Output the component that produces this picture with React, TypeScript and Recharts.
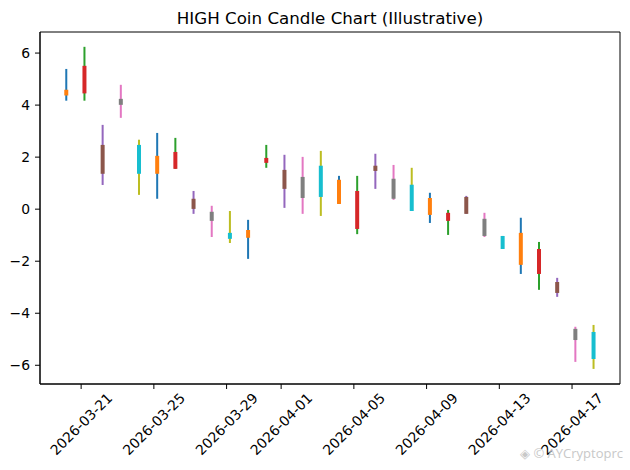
import React from "react";
import { ComposedChart, Bar, XAxis, YAxis, Cell, ReferenceArea } from "recharts";

const times = [
  "2026-03-20T04:30:00Z", "2026-03-21T04:30:00Z", "2026-03-22T04:30:00Z", "2026-03-23T04:30:00Z",
  "2026-03-24T04:30:00Z", "2026-03-25T04:30:00Z", "2026-03-26T04:30:00Z", "2026-03-27T04:30:00Z",
  "2026-03-28T04:30:00Z", "2026-03-29T04:30:00Z", "2026-03-30T04:30:00Z", "2026-03-31T04:30:00Z",
  "2026-04-01T04:30:00Z", "2026-04-02T04:30:00Z", "2026-04-03T04:30:00Z", "2026-04-04T04:30:00Z",
  "2026-04-05T04:30:00Z", "2026-04-06T04:30:00Z", "2026-04-07T04:30:00Z", "2026-04-08T04:30:00Z",
  "2026-04-09T04:30:00Z", "2026-04-10T04:30:00Z", "2026-04-11T04:30:00Z", "2026-04-12T04:30:00Z",
  "2026-04-13T04:30:00Z", "2026-04-14T04:30:00Z", "2026-04-15T04:30:00Z", "2026-04-16T04:30:00Z",
  "2026-04-17T04:30:00Z", "2026-04-18T04:30:00Z",
];
const opens = [4.37, 5.51, 2.47, 4.01, 2.47, 2.05, 2.2, 0.4, -0.1, -0.91, -0.8, 1.78, 1.51, 1.24, 0.47, 0.2, 0.7, 1.47, 1.17, 0.94, 0.43, -0.14, 0.47, -0.37, -1.03, -0.91, -1.53, -2.8, -4.6, -4.72];
const highs = [5.39, 6.24, 3.24, 4.78, 2.67, 2.93, 2.74, 0.7, 0.13, -0.07, -0.41, 2.47, 2.09, 2.01, 2.24, 1.28, 1.28, 2.13, 1.7, 1.59, 0.63, -0.03, 0.51, -0.14, -1.03, -0.33, -1.26, -2.64, -4.52, -4.45];
const lows = [4.17, 4.17, 0.93, 3.51, 0.55, 0.4, 1.55, -0.18, -1.07, -1.3, -1.91, 1.59, 0.05, -0.18, -0.26, 0.2, -0.96, 0.78, 0.36, -0.07, -0.53, -0.99, -0.18, -1.07, -1.53, -2.49, -3.1, -3.37, -5.87, -6.14];
const closes = [4.59, 4.45, 1.36, 4.24, 1.36, 1.36, 1.55, 0.01, -0.45, -1.14, -1.1, 1.97, 0.78, 0.43, 1.67, 1.13, -0.76, 1.67, 0.4, -0.07, -0.22, -0.45, -0.18, -1.03, -1.53, -2.14, -2.49, -3.22, -5.03, -5.76];

const tickDates = ["2026-03-21", "2026-03-25", "2026-03-29", "2026-04-01", "2026-04-05", "2026-04-09", "2026-04-13", "2026-04-17"];
const yTicks = [-6, -4, -2, 0, 2, 4, 6];

const wickColors = ["#1f77b4", "#2ca02c", "#9467bd", "#e377c2", "#bcbd22"];
const bodyColors = ["#ff7f0e", "#d62728", "#8c564b", "#7f7f7f", "#17becf"];

const ORIGIN = Date.parse("2026-03-21T00:00:00Z");
const DAY = 86400000;
const toDay = (s: string) => (Date.parse(s) - ORIGIN) / DAY;

const data = times.map((t, i) => ({
  x: toDay(t),
  wick: [lows[i], highs[i]],
  body: [Math.min(opens[i], closes[i]), Math.max(opens[i], closes[i])],
}));

const xTicks = tickDates.map((d) => toDay(d + "T00:00:00Z"));
const xs = data.map((d) => d.x);
const xMin = Math.min(...xs);
const xMax = Math.max(...xs);
const xPad = (xMax - xMin) * 0.05;
const xDomain = [xMin - xPad, xMax + xPad];
const yDomain = [-6.72, 6.81];

const FONT = "'DejaVu Sans', sans-serif";

const fmtDate = (v: number) => {
  const d = new Date(ORIGIN + Math.round(v) * DAY);
  return d.toISOString().slice(0, 10);
};
const fmtY = (v: number) => (v < 0 ? "\u2212" + Math.abs(v) : String(v));

const XTick = (props: any) => {
  const { x, y, payload } = props;
  const label = fmtDate(payload.value);
  const cx = x;
  const cy = y + 33;
  return (
    <text
      x={cx}
      y={cy}
      dy="0.36em"
      textAnchor="middle"
      transform={`rotate(-45, ${cx}, ${cy})`}
      fontFamily={FONT}
      fontSize={13.9}
      fill="#000"
    >
      {label}
    </text>
  );
};

const WICK_W = 2;
const WickShape = (props: any) => {
  const { x, y, width, height, fill } = props;
  if (height == null || isNaN(height)) return null;
  const top = Math.min(y, y + height);
  const h = Math.abs(height);
  return <rect x={x + width / 2 - WICK_W / 2} y={top} width={WICK_W} height={h} fill={fill} />;
};

export default function App() {
  return (
    <div style={{ position: "absolute", left: 0, top: 0, width: 630, height: 470, background: "#fff" }}>
      <div
        style={{
          position: "absolute",
          left: 40,
          width: 580,
          top: 7.5,
          lineHeight: "20px",
          textAlign: "center",
          fontFamily: FONT,
          fontSize: 16.7,
          color: "#000",
        }}
      >
        HIGH Coin Candle Chart (Illustrative)
      </div>
      <ComposedChart
        width={630}
        height={470}
        data={data}
        margin={{ top: 32, right: 10, left: 0, bottom: 0 }}
        barGap={-4}
        style={{ position: "absolute", left: 0, top: 0 }}
      >
        <XAxis
          dataKey="x"
          type="number"
          domain={xDomain}
          allowDataOverflow
          ticks={xTicks}
          interval={0}
          height={86}
          tickSize={5}
          tickLine={{ stroke: "#000" }}
          axisLine={{ stroke: "#000" }}
          tick={<XTick />}
        />
        <YAxis
          type="number"
          domain={yDomain}
          allowDataOverflow
          ticks={yTicks}
          interval={0}
          width={40}
          tickSize={5}
          tickMargin={5}
          tickLine={{ stroke: "#000" }}
          axisLine={{ stroke: "#000" }}
          tickFormatter={fmtY}
          tick={{ fill: "#000", fontFamily: FONT, fontSize: 13.9 }}
        />
        <Bar dataKey="wick" barSize={4} isAnimationActive={false} shape={<WickShape />}>
          {data.map((_, i) => (
            <Cell key={`w${i}`} fill={wickColors[i % wickColors.length]} />
          ))}
        </Bar>
        <Bar dataKey="body" barSize={4} isAnimationActive={false}>
          {data.map((_, i) => (
            <Cell key={`b${i}`} fill={bodyColors[i % bodyColors.length]} />
          ))}
        </Bar>
        <ReferenceArea
          x1={xDomain[0]}
          x2={xDomain[1]}
          y1={yDomain[0]}
          y2={yDomain[1]}
          fill="none"
          fillOpacity={0}
          stroke="#000"
          strokeWidth={1}
          ifOverflow="visible"
        />
      </ComposedChart>
      <div
        style={{
          position: "absolute",
          left: 520,
          top: 444,
          fontFamily: "'Open Sans', sans-serif",
          fontSize: 13,
          color: "#c8c8c8",
          whiteSpace: "nowrap",
        }}
      >
        ◈ © AYCryptoprc
      </div>
    </div>
  );
}
